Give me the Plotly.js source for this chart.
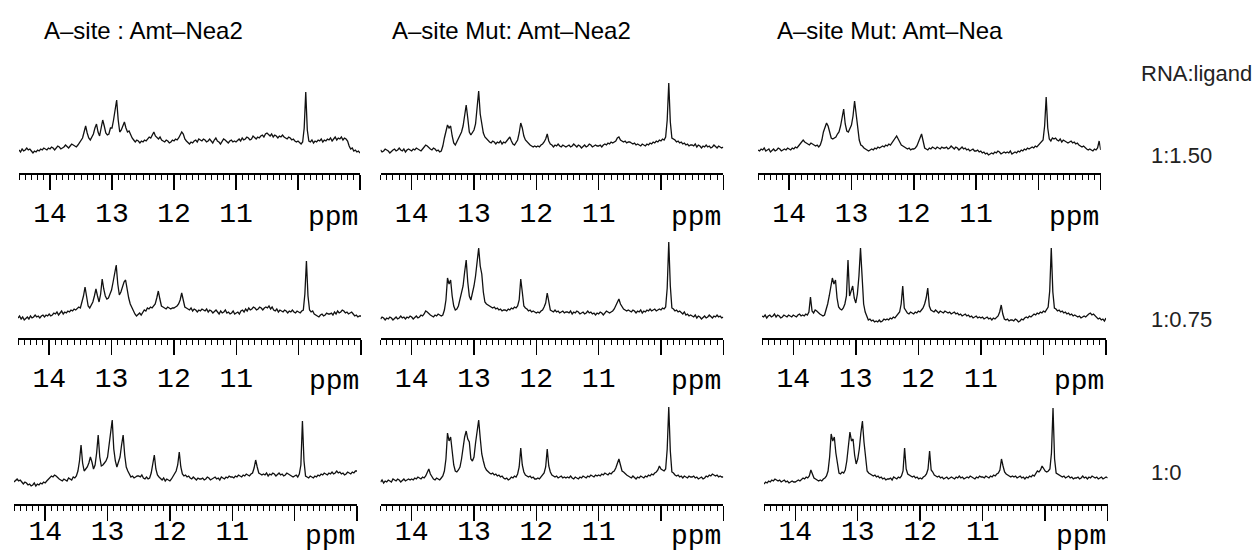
<!DOCTYPE html>
<html>
<head>
<meta charset="utf-8">
<script src="https://cdn.plot.ly/plotly-3.0.1.min.js"></script>
<style>html,body{margin:0;padding:0;background:#fff;}#chart{width:1255px;height:555px;}</style>
</head>
<body>
<div id="chart"></div>
<script>
// chemical shift axis (ppm), 14.5 -> 9.0
const ppm = [
14.5,14.475,14.45,14.425,14.4,14.375,14.35,14.325,14.3,14.275,14.25,14.225,14.2,14.175,14.15,14.125,14.1,14.075,14.05,14.025,
14,13.975,13.95,13.925,13.9,13.875,13.85,13.825,13.8,13.775,13.75,13.725,13.7,13.675,13.65,13.625,13.6,13.575,13.55,13.525,
13.5,13.475,13.45,13.425,13.4,13.375,13.35,13.325,13.3,13.275,13.25,13.225,13.2,13.175,13.15,13.125,13.1,13.075,13.05,13.025,
13,12.975,12.95,12.925,12.9,12.875,12.85,12.825,12.8,12.775,12.75,12.725,12.7,12.675,12.65,12.625,12.6,12.575,12.55,12.525,
12.5,12.475,12.45,12.425,12.4,12.375,12.35,12.325,12.3,12.275,12.25,12.225,12.2,12.175,12.15,12.125,12.1,12.075,12.05,12.025,
12,11.975,11.95,11.925,11.9,11.875,11.85,11.825,11.8,11.775,11.75,11.725,11.7,11.675,11.65,11.625,11.6,11.575,11.55,11.525,
11.5,11.475,11.45,11.425,11.4,11.375,11.35,11.325,11.3,11.275,11.25,11.225,11.2,11.175,11.15,11.125,11.1,11.075,11.05,11.025,
11,10.975,10.95,10.925,10.9,10.875,10.85,10.825,10.8,10.775,10.75,10.725,10.7,10.675,10.65,10.625,10.6,10.575,10.55,10.525,
10.5,10.475,10.45,10.425,10.4,10.375,10.35,10.325,10.3,10.275,10.25,10.225,10.2,10.175,10.15,10.125,10.1,10.075,10.05,10.025,
10,9.975,9.95,9.925,9.9,9.875,9.85,9.825,9.8,9.775,9.75,9.725,9.7,9.675,9.65,9.625,9.6,9.575,9.55,9.525,
9.5,9.475,9.45,9.425,9.4,9.375,9.35,9.325,9.3,9.275,9.25,9.225,9.2,9.175,9.15,9.125,9.1,9.075,9.05,9.025,
9
];

// column titles, ratio labels, tick labels
const columnTitles = ["A\u2013site : Amt\u2013Nea2", "A\u2013site Mut: Amt\u2013Nea2", "A\u2013site Mut: Amt\u2013Nea"];
const ratioLabels = ["1:1.50", "1:0.75", "1:0"];
const ratioHeader = "RNA:ligand";
const tickValues = [14, 13, 12, 11, 10, 9];
const tickLabels = ["14", "13", "12", "11", "", ""];
const unitLabel = "ppm";

// imino proton spectra (relative intensity)
const siteNea2_150 = [
0,-2,1,-1,0,2,0,1,-1,-3,-1,-2,0,-1,1,0,2,1,0,2,
1,3,2,0,2,4,3,1,2,3,5,3,2,4,6,5,4,3,5,7,
9,12,18,24,17,12,10,13,16,22,26,18,14,22,30,24,17,15,16,22,
22,30,42,50,30,18,20,24,28,22,18,19,15,12,10,8,10,9,7,9,
8,10,9,11,13,12,15,18,14,12,11,13,10,9,8,10,9,7,8,10,
9,11,10,12,15,18,16,11,9,7,6,8,7,9,10,8,11,10,9,11,
10,8,9,11,9,7,10,12,9,8,6,9,11,10,8,7,9,10,8,9,
8,10,11,9,12,10,11,13,12,10,11,14,12,11,13,12,14,15,13,16,
17,15,14,16,13,15,14,12,14,13,15,13,12,11,13,12,10,11,9,8,
9,7,6,8,22,58,20,9,8,10,7,9,8,10,9,11,8,10,9,11,
10,12,9,11,13,10,12,11,13,10,12,11,9,4,1,2,-1,0,-2,-1,
-3];
const mutNea2_150 = [
0,-2,-1,1,0,-1,-3,-1,0,1,-1,0,2,0,-1,1,-2,0,1,0,
-1,1,0,2,1,0,-1,1,3,5,4,2,1,0,2,1,-1,0,-2,-1,
4,12,20,25,22,24,14,7,5,8,11,14,18,24,34,45,32,18,15,18,
20,26,42,59,36,24,17,13,11,10,8,7,9,8,6,8,7,9,6,8,
7,9,11,13,9,6,5,7,10,17,27,22,14,10,8,7,5,4,3,4,
3,4,3,5,6,8,11,16,9,6,5,3,5,4,6,4,3,5,4,3,
4,5,3,4,6,4,3,5,4,2,4,5,3,4,6,5,3,4,5,4,
4,5,3,5,6,5,7,6,8,7,8,9,12,13,10,9,8,9,7,8,
8,7,6,7,5,6,5,4,6,5,4,6,5,7,6,8,7,9,8,10,
9,11,10,13,30,67,28,12,11,10,8,9,7,8,6,7,5,6,4,5,
5,4,6,3,5,4,2,4,3,5,3,4,2,3,5,3,2,4,3,2,
3];
const mutNea_150 = [
0,-1,1,0,2,-1,0,1,-2,0,1,-1,0,2,1,-1,0,1,0,2,
1,0,2,1,3,2,4,6,8,10,8,7,6,5,7,6,5,4,5,3,
5,10,18,23,27,24,18,12,11,12,13,16,18,24,33,41,26,19,18,22,
25,34,49,36,20,10,5,4,2,1,0,-1,0,1,0,2,1,3,2,3,
4,3,5,4,6,5,7,9,12,14,11,7,5,4,3,2,1,2,0,1,
1,2,4,8,12,16,9,2,1,0,2,1,3,2,1,3,2,1,3,2,
2,3,1,2,4,2,1,3,2,0,2,3,1,2,0,1,-1,0,1,-1,
-1,0,-2,-1,-3,-2,-4,-3,-5,-4,-3,-4,-2,-3,-1,-2,-4,-3,-2,-3,
-2,-3,-1,-4,-3,-2,-3,-1,-2,0,-1,1,0,2,1,2,3,2,4,3,
5,6,8,10,24,53,22,11,9,12,11,12,10,9,11,8,10,9,8,7,
8,9,7,8,6,7,5,4,3,4,2,1,0,1,0,-1,1,0,2,9,
0];
const siteNea2_075 = [
-2,0,-3,-1,-4,-2,-1,-3,0,-2,-1,1,-1,0,-2,0,1,-1,1,0,
2,0,1,3,2,4,1,3,5,2,4,3,5,4,6,5,7,6,8,9,
8,13,20,29,18,10,8,11,14,20,27,20,14,22,37,27,20,17,18,22,
26,34,44,51,32,21,24,30,34,36,26,18,12,8,5,2,0,2,3,1,
4,6,5,8,7,9,8,10,12,18,25,17,10,9,8,7,9,8,7,8,
8,9,10,12,16,23,15,9,8,7,6,8,5,7,6,4,6,5,7,6,
5,7,4,6,5,3,5,6,4,2,5,3,4,6,3,4,2,3,5,2,
3,4,2,5,6,4,7,5,8,6,7,9,8,6,7,9,8,6,8,9,
8,10,7,9,6,5,7,4,6,5,4,6,5,3,5,4,6,4,3,5,
4,3,5,6,22,55,20,6,4,5,2,1,0,-1,1,2,0,1,3,2,
2,3,1,4,2,5,3,4,6,5,3,4,2,3,4,2,0,1,-1,0,
0];
const mutNea2_075 = [
-3,-1,-2,-4,-2,-3,-1,-2,-4,-2,-1,-3,-2,0,-2,-1,-3,-1,-2,0,
-1,-3,-1,0,-2,-1,1,0,2,5,4,2,1,0,-1,1,0,2,1,0,
1,6,16,38,32,36,20,10,6,7,10,17,22,30,44,56,34,20,16,22,
30,40,55,68,50,42,24,14,12,11,10,9,8,9,7,8,6,7,5,6,
6,5,7,6,8,7,9,8,10,16,37,24,10,8,7,5,6,4,5,4,
3,4,3,5,6,9,13,23,12,6,5,4,6,4,5,3,4,5,3,4,
4,3,5,2,4,3,5,4,2,3,4,2,3,5,3,4,2,3,1,3,
2,4,3,1,3,5,4,3,4,5,7,10,14,17,12,9,7,6,5,6,
5,4,6,5,3,5,4,6,3,5,4,6,5,7,5,6,7,5,6,7,
6,8,7,9,28,74,30,8,7,5,6,4,5,3,2,4,1,2,0,1,
0,-1,1,-2,0,-1,-3,-1,0,-2,-1,1,-1,-2,0,-1,1,-1,0,-2,
-1];
const mutNea_075 = [
0,-1,1,-2,0,1,-1,0,2,-1,1,0,-2,-1,1,0,-1,1,0,-1,
1,0,-1,1,2,0,1,0,2,1,4,19,5,3,6,5,3,2,1,0,
1,6,12,20,30,38,32,36,18,9,7,6,8,12,20,56,20,24,30,18,
13,22,40,68,39,12,4,0,-4,-3,-5,-4,-6,-5,-6,-4,-6,-5,-3,-4,
-3,-4,-2,-3,-1,-2,0,2,4,12,30,8,5,3,2,4,3,2,4,3,
5,4,6,8,12,18,28,10,6,5,4,6,4,3,5,4,3,5,4,3,
4,2,3,4,2,3,1,2,0,1,2,0,1,-1,0,-2,-1,0,-2,-1,
-2,-1,-3,-2,-1,-3,-2,-4,-2,-3,-1,0,4,11,2,-3,-4,-3,-5,-4,
-4,-5,-3,-4,-6,-5,-3,-4,-2,-1,-2,0,-1,1,2,1,3,2,4,3,
5,4,6,9,25,68,24,8,7,5,6,4,5,3,4,2,3,1,2,0,
1,0,-1,0,-2,-1,0,-1,1,2,3,1,2,0,-2,-3,-2,-4,-3,-5,
-2];
const siteNea2_0 = [
-3,-1,0,-2,-1,-3,-5,-3,-4,-6,-5,-7,-6,-4,-7,-5,-6,-4,-5,-3,
-4,-2,0,1,3,2,4,3,1,0,-1,-2,0,-1,-2,1,0,-1,2,1,
3,8,18,34,16,8,10,12,16,22,17,10,14,26,44,22,13,14,16,18,
22,35,44,59,30,18,12,16,22,34,44,24,12,8,4,2,3,1,2,3,
3,2,4,1,0,2,0,1,6,16,24,10,4,2,0,-1,1,-2,0,-1,
-2,0,3,5,8,14,27,12,5,3,4,2,3,1,0,2,0,-1,1,0,
0,1,-1,0,2,1,-1,0,1,2,0,1,-1,2,1,0,2,1,3,2,
2,1,3,2,4,3,2,4,3,5,4,3,5,6,11,19,12,6,5,4,
5,4,6,3,5,4,6,5,3,5,6,4,5,3,4,6,5,4,3,2,
3,4,2,5,14,58,18,3,2,1,3,2,1,3,2,4,3,5,4,6,
5,4,6,5,7,5,6,8,6,7,5,6,4,5,7,6,5,7,6,8,
8];
const mutNea2_0 = [
-3,-1,-4,-2,-3,-1,-2,-3,0,-1,-2,0,-1,-3,-1,0,-2,-1,0,-1,
0,-1,1,0,2,1,0,2,1,3,7,10,5,2,0,-1,1,0,-1,1,
3,8,20,46,38,42,26,14,8,7,9,12,20,32,42,48,40,37,20,18,
22,36,50,59,41,25,18,12,9,7,6,5,6,4,5,3,4,2,3,1,
0,1,-1,0,2,1,3,2,5,12,31,14,7,4,3,2,3,1,2,0,
0,1,0,2,3,6,12,30,13,7,4,3,2,3,1,2,3,1,2,1,
2,1,3,1,0,2,1,0,2,1,3,2,1,3,2,4,3,2,4,3,
4,3,5,4,6,5,4,6,5,7,8,11,15,20,14,8,7,5,4,3,
2,1,3,1,0,2,1,3,2,1,3,2,4,3,5,4,6,7,9,13,
10,9,8,10,30,72,28,7,6,4,3,4,2,3,1,3,2,1,3,2,
2,3,1,2,0,1,2,0,1,3,2,4,3,5,4,3,4,2,3,2,
2];
const mutNea_0 = [
-5,-3,-4,-2,-3,-1,-2,0,-1,-2,-1,-3,-2,-1,-3,-2,-4,-3,-2,-3,
-3,-2,-1,-2,0,1,0,2,1,3,9,4,1,0,-1,-2,-1,-2,0,1,
3,8,22,45,38,42,26,14,6,5,7,6,9,18,34,47,38,40,24,15,
20,30,46,58,37,20,8,6,5,4,3,4,2,3,1,2,0,1,-1,0,
0,1,-1,2,1,0,2,1,3,8,31,10,5,4,3,2,3,1,2,0,
1,0,2,3,5,10,28,9,7,4,3,2,3,1,2,0,1,2,0,1,
2,1,0,2,1,3,1,2,0,1,2,1,3,2,1,0,2,1,3,2,
2,1,3,2,1,3,2,4,3,5,6,9,20,13,7,5,4,3,2,3,
2,3,1,2,3,1,2,0,2,1,3,2,4,3,5,8,7,9,13,10,
8,7,8,10,26,71,20,6,5,4,3,2,3,1,2,3,1,2,0,1,
1,2,0,1,3,1,2,0,2,1,3,2,1,2,0,1,2,0,1,2,
1];

// ---------- layout (pixel geometry) ----------
const W = 1255, H = 555, PH = 100;
const rowRuler = [173, 338, 504];     // y of ruler line per row
const rowBase = [23, 22, 25];         // baseline height above ruler
const rowStandoff = [-1, -1, -14];    // tick label standoff
const rowLabelY = [217, 381, 536];    // vertical centre of the "ppm" label
const panelX = [
  [[19, 360], [380.5, 723.3], [758, 1100.7]],
  [[18, 361], [380.5, 723.3], [762, 1106]],
  [[14, 357], [380.5, 723.3], [764, 1107.7]]
];
const spectra = [
  [siteNea2_150, mutNea2_150, mutNea_150],
  [siteNea2_075, mutNea2_075, mutNea_075],
  [siteNea2_0, mutNea2_0, mutNea_0]
];
const monoFont = "'Courier New', 'Liberation Mono', monospace";
const sansFont = "Arial, 'Liberation Sans', Helvetica, sans-serif";

const traces = [];
const layout = {
  width: W, height: H,
  margin: {l: 0, r: 0, t: 0, b: 0, pad: 0},
  paper_bgcolor: '#ffffff', plot_bgcolor: 'rgba(0,0,0,0)',
  showlegend: false,
  annotations: []
};

let n = 0;
for (let r = 0; r < 3; r++) {
  for (let c = 0; c < 3; c++) {
    n++;
    const sx = n === 1 ? '' : String(n);
    const [x0, x1] = panelX[r][c];
    const ruler = rowRuler[r];
    traces.push({
      x: ppm, y: spectra[r][c],
      xaxis: 'x' + sx, yaxis: 'y' + sx,
      type: 'scatter', mode: 'lines',
      line: {color: '#111111', width: 1.3},
      hoverinfo: 'skip'
    });
    layout['xaxis' + sx] = {
      domain: [x0 / W, x1 / W],
      anchor: 'y' + sx,
      range: [14.5, 9.0],
      showgrid: false, zeroline: false,
      showline: true, linecolor: '#000', linewidth: 1.5,
      ticks: 'outside', ticklen: 15, tickwidth: 1.5, tickcolor: '#000',
      tickmode: 'array', tickvals: tickValues, ticktext: tickLabels,
      ticklabelstandoff: rowStandoff[r],
      tickfont: {family: monoFont, size: 28, color: '#000'},
      minor: {tickmode: 'linear', tick0: 0, dtick: 0.1, ticks: 'outside', ticklen: 5, tickwidth: 1, tickcolor: '#000', showgrid: false},
      fixedrange: true
    };
    layout['yaxis' + sx] = {
      domain: [1 - ruler / H, 1 - (ruler - PH) / H],
      anchor: 'x' + sx,
      range: [-rowBase[r], PH - rowBase[r]],
      visible: false, fixedrange: true
    };
    layout.annotations.push({
      xref: 'x' + sx, x: 9.0, xanchor: 'right',
      yref: 'paper', y: 1 - rowLabelY[r] / H, yanchor: 'middle',
      text: unitLabel, showarrow: false,
      font: {family: monoFont, size: 28, color: '#000'}
    });
  }
}

// column titles
const titleX = [42, 390, 775];
columnTitles.forEach((t, i) => {
  layout.annotations.push({
    xref: 'paper', yref: 'paper', x: titleX[i] / W, y: 1 - 30 / H,
    xanchor: 'left', yanchor: 'middle', text: t, showarrow: false,
    font: {family: sansFont, size: 24, color: '#000'}
  });
});
// ratio header and labels
layout.annotations.push({
  xref: 'paper', yref: 'paper', x: 1254 / W, y: 1 - 74 / H,
  xanchor: 'right', yanchor: 'middle', text: ratioHeader, showarrow: false,
  font: {family: sansFont, size: 22, color: '#222'}
});
const ratioY = [155, 319, 472];
ratioLabels.forEach((t, i) => {
  layout.annotations.push({
    xref: 'paper', yref: 'paper', x: 1149 / W, y: 1 - ratioY[i] / H,
    xanchor: 'left', yanchor: 'middle', text: t, showarrow: false,
    font: {family: sansFont, size: 22, color: '#222'}
  });
});

Plotly.newPlot('chart', traces, layout, {staticPlot: true, displayModeBar: false});
</script>
</body>
</html>
